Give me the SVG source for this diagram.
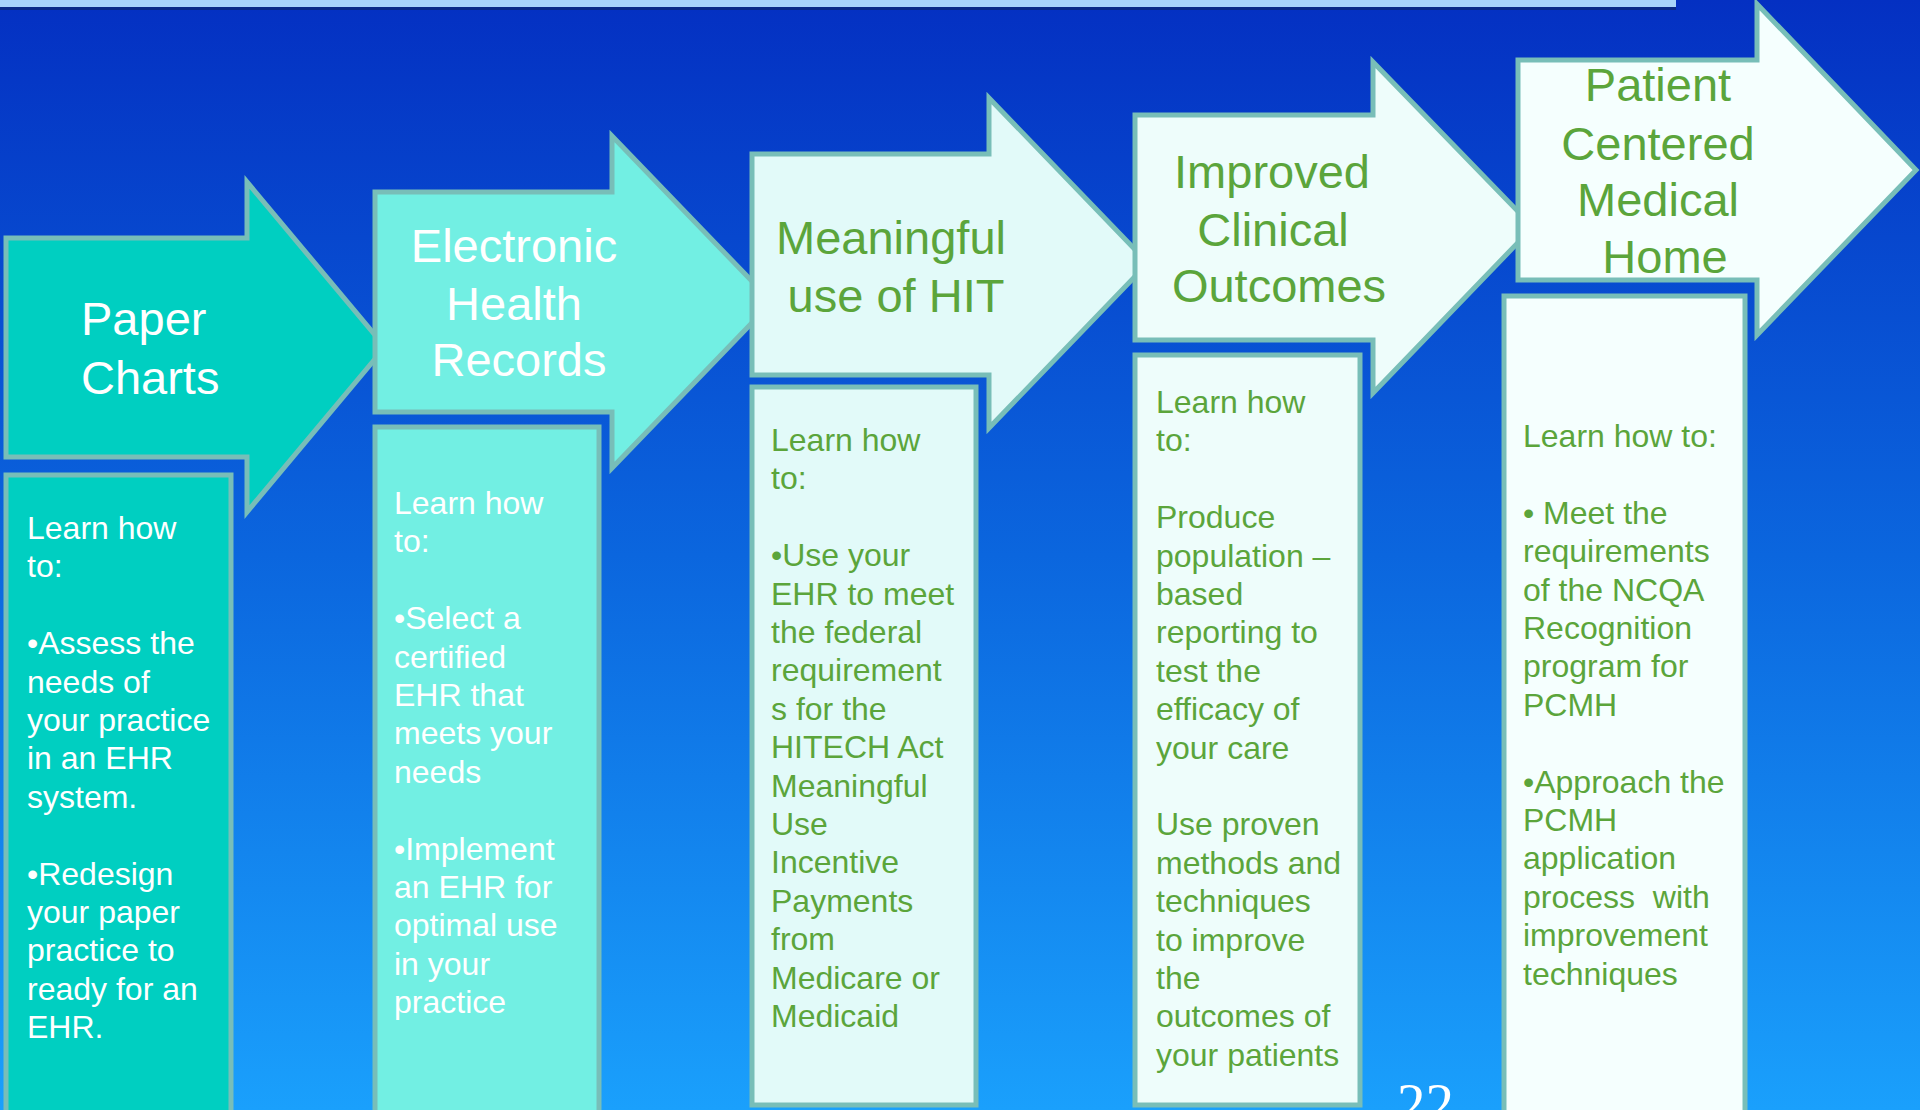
<svg xmlns="http://www.w3.org/2000/svg" width="1920" height="1110" viewBox="0 0 1920 1110">
<defs>
<linearGradient id="bg" x1="0" y1="0" x2="0" y2="1">
<stop offset="0" stop-color="#0430C2"/>
<stop offset="0.5" stop-color="#0B66DE"/>
<stop offset="1" stop-color="#1AA0FC"/>
</linearGradient>
</defs>
<style>
.sh{stroke:#78BEB8;stroke-width:5;stroke-linejoin:miter}
.c1{fill:#00CFC1}.c2{fill:#72EFE3}.c3{fill:#E2FAF9}.c4{fill:#EEFDFB}.c5{fill:#F5FFFE}
.t{font-family:"Liberation Sans",Arial,sans-serif;font-size:47px}
.b{font-family:"Liberation Sans",Arial,sans-serif;font-size:32px;white-space:pre}
.w{fill:#FFFFFF}.g{fill:#5BA53B}
</style>
<rect x="0" y="0" width="1920" height="1110" fill="url(#bg)"/>
<rect x="0" y="0" width="1676" height="7" fill="#A8D4FA"/>
<rect x="0" y="7" width="1676" height="3" fill="#0A2A86"/>
<g id="connectors"></g>
<g id="node-paper-charts">
<polygon class="sh c1" points="6,238 247,238 247,182 385,347 247,512 247,457 6,457"/>
<text class="t w"><tspan x="81" y="335">Paper</tspan><tspan x="81" y="394">Charts</tspan></text>
</g>
<g id="panel-paper-charts">
<rect class="sh c1" x="6" y="475" width="225" height="700"/>
<text class="b w"><tspan x="27" y="539">Learn how</tspan><tspan x="27" dy="38.4">to:</tspan><tspan x="27" dy="76.8">•Assess the</tspan><tspan x="27" dy="38.4">needs of</tspan><tspan x="27" dy="38.4">your practice</tspan><tspan x="27" dy="38.4">in an EHR</tspan><tspan x="27" dy="38.4">system.</tspan><tspan x="27" dy="76.8">•Redesign</tspan><tspan x="27" dy="38.4">your paper</tspan><tspan x="27" dy="38.4">practice to</tspan><tspan x="27" dy="38.4">ready for an</tspan><tspan x="27" dy="38.4">EHR.</tspan></text>
</g>
<g id="node-ehr">
<polygon class="sh c2" points="375,192 612,192 612,136 772,302 612,468 612,412 375,412"/>
<text class="t w" text-anchor="middle"><tspan x="514" y="262">Electronic</tspan><tspan x="514" y="320">Health</tspan><tspan x="519" y="376">Records</tspan></text>
</g>
<g id="panel-ehr">
<rect class="sh c2" x="375" y="427" width="224" height="750"/>
<text class="b w"><tspan x="394" y="514">Learn how</tspan><tspan x="394" dy="38.4">to:</tspan><tspan x="394" dy="76.8">•Select a</tspan><tspan x="394" dy="38.4">certified</tspan><tspan x="394" dy="38.4">EHR that</tspan><tspan x="394" dy="38.4">meets your</tspan><tspan x="394" dy="38.4">needs</tspan><tspan x="394" dy="76.8">•Implement</tspan><tspan x="394" dy="38.4">an EHR for</tspan><tspan x="394" dy="38.4">optimal use</tspan><tspan x="394" dy="38.4">in your</tspan><tspan x="394" dy="38.4">practice</tspan></text>
</g>
<g id="node-meaningful-use">
<polygon class="sh c3" points="752,154 989,154 989,98 1148,263 989,428 989,375 752,375"/>
<text class="t g" text-anchor="middle"><tspan x="891" y="254">Meaningful</tspan><tspan x="896" y="312">use of HIT</tspan></text>
</g>
<g id="panel-meaningful-use">
<rect class="sh c3" x="752" y="387" width="224" height="718"/>
<text class="b g"><tspan x="771" y="451">Learn how</tspan><tspan x="771" dy="38.4">to:</tspan><tspan x="771" dy="76.8">•Use your</tspan><tspan x="771" dy="38.4">EHR to meet</tspan><tspan x="771" dy="38.4">the federal</tspan><tspan x="771" dy="38.4">requirement</tspan><tspan x="771" dy="38.4">s for the</tspan><tspan x="771" dy="38.4">HITECH Act</tspan><tspan x="771" dy="38.4">Meaningful</tspan><tspan x="771" dy="38.4">Use</tspan><tspan x="771" dy="38.4">Incentive</tspan><tspan x="771" dy="38.4">Payments</tspan><tspan x="771" dy="38.4">from</tspan><tspan x="771" dy="38.4">Medicare or</tspan><tspan x="771" dy="38.4">Medicaid</tspan></text>
</g>
<g id="node-clinical-outcomes">
<polygon class="sh c4" points="1135,115 1373,115 1373,62 1533,227 1373,393 1373,340 1135,340"/>
<text class="t g" text-anchor="middle"><tspan x="1272" y="188">Improved</tspan><tspan x="1273" y="246">Clinical</tspan><tspan x="1279" y="302">Outcomes</tspan></text>
</g>
<g id="panel-clinical-outcomes">
<rect class="sh c4" x="1135" y="355" width="225" height="750"/>
<text class="b g"><tspan x="1156" y="413">Learn how</tspan><tspan x="1156" dy="38.4">to:</tspan><tspan x="1156" dy="76.8">Produce</tspan><tspan x="1156" dy="38.4">population –</tspan><tspan x="1156" dy="38.4">based</tspan><tspan x="1156" dy="38.4">reporting to</tspan><tspan x="1156" dy="38.4">test the</tspan><tspan x="1156" dy="38.4">efficacy of</tspan><tspan x="1156" dy="38.4">your care</tspan><tspan x="1156" dy="76.8">Use proven</tspan><tspan x="1156" dy="38.4">methods and</tspan><tspan x="1156" dy="38.4">techniques</tspan><tspan x="1156" dy="38.4">to improve</tspan><tspan x="1156" dy="38.4">the</tspan><tspan x="1156" dy="38.4">outcomes of</tspan><tspan x="1156" dy="38.4">your patients</tspan></text>
</g>
<g id="node-pcmh">
<polygon class="sh c5" points="1518,60 1757,60 1757,4 1916,170 1757,335 1757,280 1518,280"/>
<text class="t g" text-anchor="middle"><tspan x="1658" y="101">Patient</tspan><tspan x="1658" y="160">Centered</tspan><tspan x="1658" y="216">Medical</tspan><tspan x="1665" y="273">Home</tspan></text>
</g>
<g id="panel-pcmh">
<rect class="sh c5" x="1504" y="296" width="241" height="900"/>
<text class="b g"><tspan x="1523" y="447">Learn how to:</tspan><tspan x="1523" dy="76.8">• Meet the</tspan><tspan x="1523" dy="38.4">requirements</tspan><tspan x="1523" dy="38.4">of the NCQA</tspan><tspan x="1523" dy="38.4">Recognition</tspan><tspan x="1523" dy="38.4">program for</tspan><tspan x="1523" dy="38.4">PCMH</tspan><tspan x="1523" dy="76.8">•Approach the</tspan><tspan x="1523" dy="38.4">PCMH</tspan><tspan x="1523" dy="38.4">application</tspan><tspan x="1523" dy="38.4">process  with</tspan><tspan x="1523" dy="38.4">improvement</tspan><tspan x="1523" dy="38.4">techniques</tspan></text>
</g>
<text x="1397" y="1123" font-family="'Liberation Serif','Times New Roman',serif" font-size="57" fill="#FFFFFF">22</text>
</svg>
